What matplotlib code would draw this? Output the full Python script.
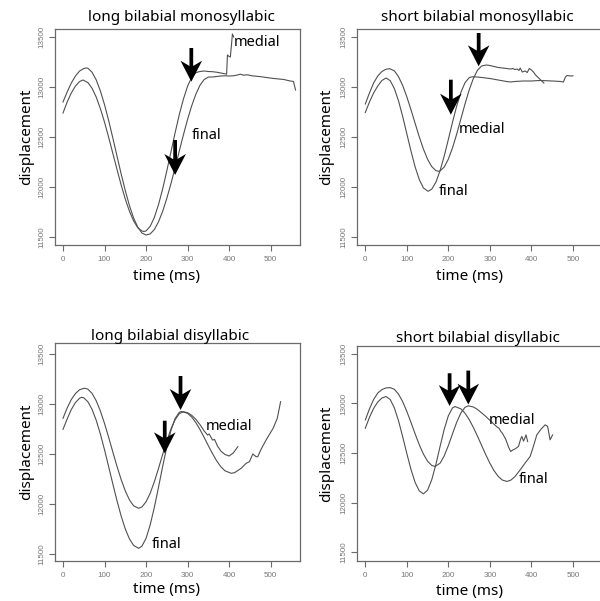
import matplotlib
matplotlib.use("Agg")
import matplotlib.pyplot as plt

# ---------------- data ----------------
titles = ["long bilabial monosyllabic", "short bilabial monosyllabic",
          "long bilabial disyllabic", "short bilabial disyllabic"]
xticks = [0, 100, 200, 300, 400, 500]
yticks = [11500, 12000, 12500, 13000, 13500]
x_label = "time (ms)"
y_label = "displacement"

# panel 1: long bilabial monosyllabic
t1_final = [0, 10, 20, 30, 40, 50, 55, 60, 70, 80, 90, 100, 110, 120, 130, 140, 150, 160, 170, 180, 190, 200,
            210, 220, 230, 240, 250, 260, 270, 280, 290, 300, 310, 320, 330, 340, 350, 360,
            370, 380, 390, 400, 410, 420, 427, 435, 444, 455, 465, 476, 490, 508, 520, 532, 545, 555, 560]
v1_final = [12850, 12950, 13040, 13110, 13160, 13185, 13190, 13188, 13147, 13071, 12961, 12823, 12664, 12490,
            12310, 12131, 11964, 11814, 11690, 11599, 11540, 11520,
            11531, 11575, 11652, 11757, 11887, 12034, 12195, 12360, 12522, 12676, 12813, 12929, 13019, 13075,
            13099, 13100, 13105, 13110, 13112, 13110, 13112, 13120, 13128, 13118, 13122, 13112, 13108, 13103,
            13095, 13085, 13080, 13075, 13062, 13055, 12970]
t1_medial = [0, 10, 20, 30, 40, 48, 60, 70, 80, 90, 100, 110, 120, 130, 140, 150, 160, 170, 180, 190, 195,
             200, 210, 220, 230, 240, 250, 260, 270, 280, 290, 300, 310, 320, 325,
             330, 340, 350, 360, 370, 380, 390, 394, 396, 400, 403, 408, 411]
v1_medial = [12740, 12850, 12940, 13010, 13055, 13070, 13044, 12987, 12899, 12784, 12648, 12496, 12336, 12176,
             12021, 11878, 11758, 11661, 11593, 11560, 11555,
             11561, 11607, 11696, 11824, 11981, 12162, 12352, 12543, 12723, 12880, 13008, 13097, 13143, 13150,
             13155, 13160, 13155, 13153, 13148, 13140, 13132, 13128, 13320, 13305, 13300, 13530, 13500]

# panel 2: short bilabial monosyllabic
t2_final = [0, 10, 20, 30, 40, 50, 60, 70, 80, 90, 100, 110, 120, 130, 140, 151,
            160, 170, 180, 190, 200, 210, 220, 230, 240, 250, 255, 260, 270, 280, 290, 300, 320, 340, 350,
            360, 380, 400, 420, 440, 450, 460, 470, 477, 482, 486, 495, 500]
v2_final = [12745, 12850, 12940, 13010, 13065, 13090, 13063, 12984, 12861, 12706, 12532, 12359, 12201, 12074,
            11990, 11957, 11978, 12048, 12163, 12309, 12476, 12648, 12808, 12944, 13042, 13093, 13100, 13102,
            13100, 13095, 13090, 13085, 13070, 13055, 13050, 13055, 13060, 13060, 13065, 13062, 13060, 13058,
            13055, 13050, 13100, 13115, 13110, 13112]
t2_medial = [0, 10, 20, 30, 40, 50, 59, 70, 80, 90, 100, 110, 120, 130, 140, 150, 160, 170, 176,
             180, 190, 200, 210, 220, 230, 240, 250, 260, 270, 280, 285, 292, 300, 310, 320, 330, 340, 350,
             355, 360, 366, 370, 373, 378, 385, 390, 395, 400, 405, 410, 420, 430]
v2_medial = [12830, 12940, 13040, 13110, 13155, 13178, 13183, 13161, 13103, 13015, 12902, 12773, 12636, 12501,
             12379, 12277, 12204, 12164, 12157, 12161, 12199, 12279, 12391, 12528, 12678, 12829, 12968, 13083,
             13167, 13210, 13215, 13220, 13215, 13205, 13195, 13190, 13185, 13180, 13185, 13175, 13180, 13165,
             13190, 13150, 13160, 13145, 13185, 13170, 13150, 13120, 13080, 13040]

# panel 3: long bilabial disyllabic
t3_final = [0, 10, 20, 30, 40, 45, 50, 60, 70, 80, 90, 100, 110, 120, 130, 140, 150, 160, 170, 182,
            190, 200, 210, 220, 230, 240, 250, 260, 270, 280, 285, 300, 310, 320, 330, 340, 350, 360, 370,
            380, 390, 405, 413, 429, 441, 449, 457, 465, 469, 477, 489, 506, 516, 524]
v3_final = [12747, 12850, 12945, 13015, 13058, 13067, 13062, 13022, 12946, 12837, 12699, 12542, 12372, 12200,
            12033, 11880, 11750, 11651, 11586, 11557, 11578, 11657, 11792, 11967, 12168, 12376, 12571, 12736,
            12855, 12917, 12925, 12907, 12869, 12813, 12744, 12665, 12583, 12504, 12432, 12373, 12332, 12307,
            12313, 12357, 12407, 12423, 12500, 12473, 12473, 12547, 12640, 12757, 12857, 13023]
t3_medial = [0, 10, 20, 30, 40, 50, 53, 60, 70, 80, 90, 100, 110, 120, 130, 140, 150, 160, 170, 182,
             190, 200, 210, 220, 230, 240, 250, 260, 270, 280, 290, 300, 310, 320, 330, 340, 348, 352, 360,
             365, 372, 380, 390, 400, 410, 421]
v3_medial = [12857, 12960, 13045, 13105, 13143, 13156, 13157, 13148, 13106, 13032, 12930, 12805, 12666, 12520,
             12377, 12245, 12131, 12041, 11982, 11957, 11970, 12022, 12108, 12223, 12356, 12496, 12631, 12751,
             12843, 12903, 12923, 12913, 12887, 12846, 12793, 12730, 12690, 12700, 12640, 12645, 12580, 12530,
             12495, 12480, 12510, 12573]

# panel 4: short bilabial disyllabic
t4_final = [0, 10, 20, 30, 40, 50, 60, 70, 80, 90, 100, 110, 120, 130, 140, 150, 160, 170, 180, 190, 200,
            210, 216, 230, 240, 250, 260, 270, 280, 290, 300, 310, 320, 330, 341, 350, 360, 373, 385, 397,
            405, 413, 423, 433, 439, 445, 451]
v4_final = [12750, 12860, 12950, 13015, 13055, 13070, 13040, 12955, 12825, 12664, 12494, 12334, 12203, 12117,
            12088, 12125, 12230, 12385, 12565, 12739, 12876, 12955, 12969, 12946, 12902, 12839, 12760, 12671,
            12577, 12484, 12397, 12322, 12264, 12227, 12213, 12225, 12260, 12330, 12400, 12465, 12570, 12683,
            12740, 12784, 12770, 12633, 12683]
t4_medial = [0, 10, 20, 30, 40, 50, 60, 70, 80, 90, 100, 110, 120, 130, 140, 150, 160, 168,
             180, 190, 200, 210, 220, 230, 240, 248, 260, 270, 280, 290, 300, 310, 318, 322, 326, 330, 338,
             345, 350, 355, 362, 369, 374, 377, 381, 385, 387, 391]
v4_medial = [12834, 12945, 13040, 13105, 13140, 13157, 13160, 13143, 13094, 13018, 12920, 12808, 12693, 12583,
             12489, 12417, 12375, 12364, 12397, 12471, 12575, 12694, 12809, 12903, 12961, 12976, 12965, 12940,
             12905, 12870, 12830, 12790, 12760, 12750, 12720, 12700, 12640, 12560, 12515, 12530, 12545, 12567,
             12640, 12667, 12620, 12660, 12683, 12616]

series_t = [(t1_final, t1_medial), (t2_final, t2_medial), (t3_final, t3_medial), (t4_final, t4_medial)]
series_v = [(v1_final, v1_medial), (v2_final, v2_medial), (v3_final, v3_medial), (v4_final, v4_medial)]

# annotation positions (data coords)
label_pos = [
    {"medial": (411, 13443), "final": (309, 12510)},
    {"medial": (226, 12573), "final": (176, 11957)},
    {"medial": (344, 12780), "final": (214, 11590)},
    {"medial": (297, 12828), "final": (369, 12229)},
]
arrows = [
    [((309, 13390), (309, 13053)), ((270, 12470), (270, 12120))],
    [((206, 13073), (206, 12723)), ((273, 13540), (273, 13207))],
    [((283, 13280), (283, 12940)), ((245, 12833), (245, 12507))],
    [((203, 13305), (203, 12975)), ((248, 13332), (248, 12990))],
]

# ---------------- layout ----------------
W, H = 600, 601
def rect(l, t, r, b):
    return [l / W, 1 - b / H, (r - l) / W, (b - t) / H]

axes_rects = [rect(54.7, 29, 299.7, 245), rect(357, 29, 602, 245),
              rect(54.7, 343, 299.7, 561), rect(357, 346, 602, 561)]
ylims = [(11420, 13580), (11420, 13580), (11430, 13610), (11410, 13580)]
title_xy = [(0.516, 1.051), (0.49, 1.051), (0.471, 1.032), (0.494, 1.037)]
xlabel_y = [-0.148, -0.148, -0.133, -0.14]
ylabel_x = [-0.113, -0.122, -0.113, -0.122]

font = "Noto Sans"
tick_font = "Liberation Sans"
line_col = "#505050"
box_col = "#6a6a6a"
tick_col = "#777777"

fig = plt.figure(figsize=(6, 6.01), dpi=100)

for i in range(4):
    ax = fig.add_axes(axes_rects[i])
    ax.set_xlim(-20, 570)
    ax.set_ylim(*ylims[i])
    for tt, vv in zip(series_t[i], series_v[i]):
        ax.plot(tt, vv, color=line_col, lw=0.8)
    for s in ax.spines.values():
        s.set_color(box_col)
        s.set_linewidth(0.9)
    ax.set_xticks(xticks)
    ax.set_yticks(yticks)
    ax.set_xticklabels([str(v) for v in xticks], fontfamily=tick_font)
    ax.set_yticklabels([str(v) for v in yticks], fontfamily=tick_font, rotation=90, va="center")
    ax.tick_params(direction="out", length=4, width=0.8, color=box_col, labelsize=5.8,
                   labelcolor=tick_col)
    ax.tick_params(axis="x", pad=4)
    ax.tick_params(axis="y", pad=3)
    ax.text(title_xy[i][0], title_xy[i][1], titles[i], transform=ax.transAxes,
            ha="center", va="center", fontsize=11, family=font)
    ax.text(250, xlabel_y[i], x_label, transform=ax.get_xaxis_transform(),
            ha="center", va="center", fontsize=11, family=font)
    ax.text(ylabel_x[i], 0.5, y_label, transform=ax.transAxes, rotation=90,
            ha="center", va="center", fontsize=11, family=font)
    for name, (lx, ly) in label_pos[i].items():
        ax.text(lx, ly, name, ha="left", va="center", fontsize=10.5, family=font)
    # arrow sizes: data units (x: ms per px ~2.41, y: units per px ~10)
    for (start, tip) in arrows[i]:
        ax.arrow(start[0], start[1], 0, tip[1] - start[1], width=9, head_width=52,
                 head_length=210, overhang=0.25, length_includes_head=True,
                 fc="black", ec="black", lw=0, zorder=5)

fig.savefig("out.png", dpi=100)
